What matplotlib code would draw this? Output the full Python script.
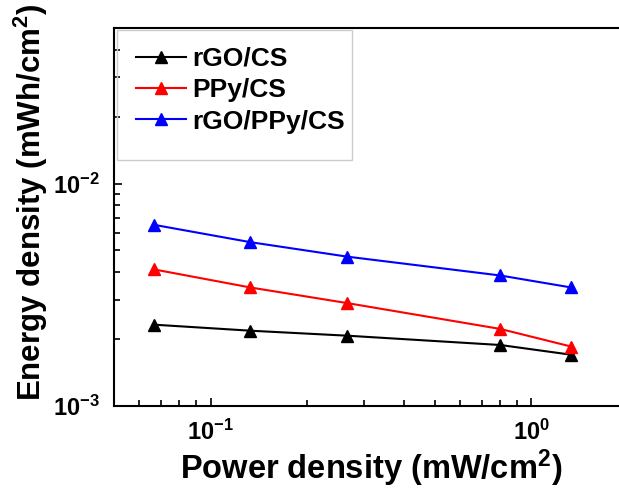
import matplotlib
matplotlib.use("Agg")
import matplotlib.pyplot as plt
from matplotlib.ticker import FuncFormatter, NullFormatter, LogLocator
from matplotlib.patches import Rectangle
import numpy as np

plt.rcParams['font.family'] = ['Liberation Sans', 'DejaVu Sans']
plt.rcParams['font.weight'] = 'bold'
plt.rcParams['mathtext.fontset'] = 'custom'
plt.rcParams['mathtext.rm'] = 'Liberation Sans:bold'
plt.rcParams['mathtext.bf'] = 'Liberation Sans:bold'
plt.rcParams['mathtext.it'] = 'Liberation Sans:bold'
plt.rcParams['mathtext.default'] = 'bf'

# Дані
power = [0.0667, 0.133, 0.267, 0.80, 1.33]
energy_rgo = [0.00232, 0.00218, 0.00207, 0.00188, 0.00170]
energy_ppy = [0.00411, 0.00341, 0.00290, 0.00222, 0.00185]
energy_rgo_ppy = [0.00652, 0.00545, 0.00469, 0.00386, 0.00341]

labels = ['rGO/CS', 'PPy/CS', 'rGO/PPy/CS']
colors = ['black', 'red', 'blue']

fig = plt.figure(figsize=(6.19, 4.88), dpi=100)
ax = fig.add_axes([114 / 619, (488 - 406) / 488, 514 / 619, 378 / 488])

for ys, lab, col in zip([energy_rgo, energy_ppy, energy_rgo_ppy], labels, colors):
    ax.plot(power, ys, color=col, marker='^', markersize=8, linewidth=1.5, label=lab)

ax.set_xscale('log')
ax.set_yscale('log')
ax.set_xlim(0.05, 2)
ax.set_ylim(1e-3, 0.05)

def fmt(v, pos):
    e = int(round(np.log10(v)))
    return r'$\mathbf{10^{%d}}$' % e

ax.xaxis.set_major_locator(LogLocator(base=10))
ax.yaxis.set_major_locator(LogLocator(base=10))
ax.xaxis.set_major_formatter(FuncFormatter(fmt))
ax.yaxis.set_major_formatter(FuncFormatter(fmt))
ax.xaxis.set_minor_formatter(NullFormatter())
ax.yaxis.set_minor_formatter(NullFormatter())

ax.tick_params(which='both', direction='in', top=False, right=False, labelsize=17, width=1.2)
ax.tick_params(which='major', length=6, pad=10)
ax.tick_params(which='minor', length=4)
for s in ax.spines.values():
    s.set_linewidth(1.5)

ax.set_xlabel('Power density (mW/cm$^{2}$)', fontsize=23.5, fontweight='bold', labelpad=2)
ax.set_ylabel('Energy density (mWh/cm$^{2}$)', fontsize=22.5, fontweight='bold')
ax.yaxis.set_label_coords(-0.124, 0.54)

# Легенда без рамки + окрема рамка, як на оригіналі
leg = ax.legend(loc='upper left', bbox_to_anchor=(0.043, 0.95), fontsize=19, frameon=False,
                borderaxespad=0, borderpad=0, handlelength=1.9, handletextpad=0.22,
                labelspacing=0.28)
ax.add_patch(Rectangle((0.006, 0.651), 0.457, 0.344, transform=ax.transAxes,
                       fill=False, edgecolor='#cccccc', linewidth=1.0, zorder=5))

fig.savefig('out.png', dpi=100)
